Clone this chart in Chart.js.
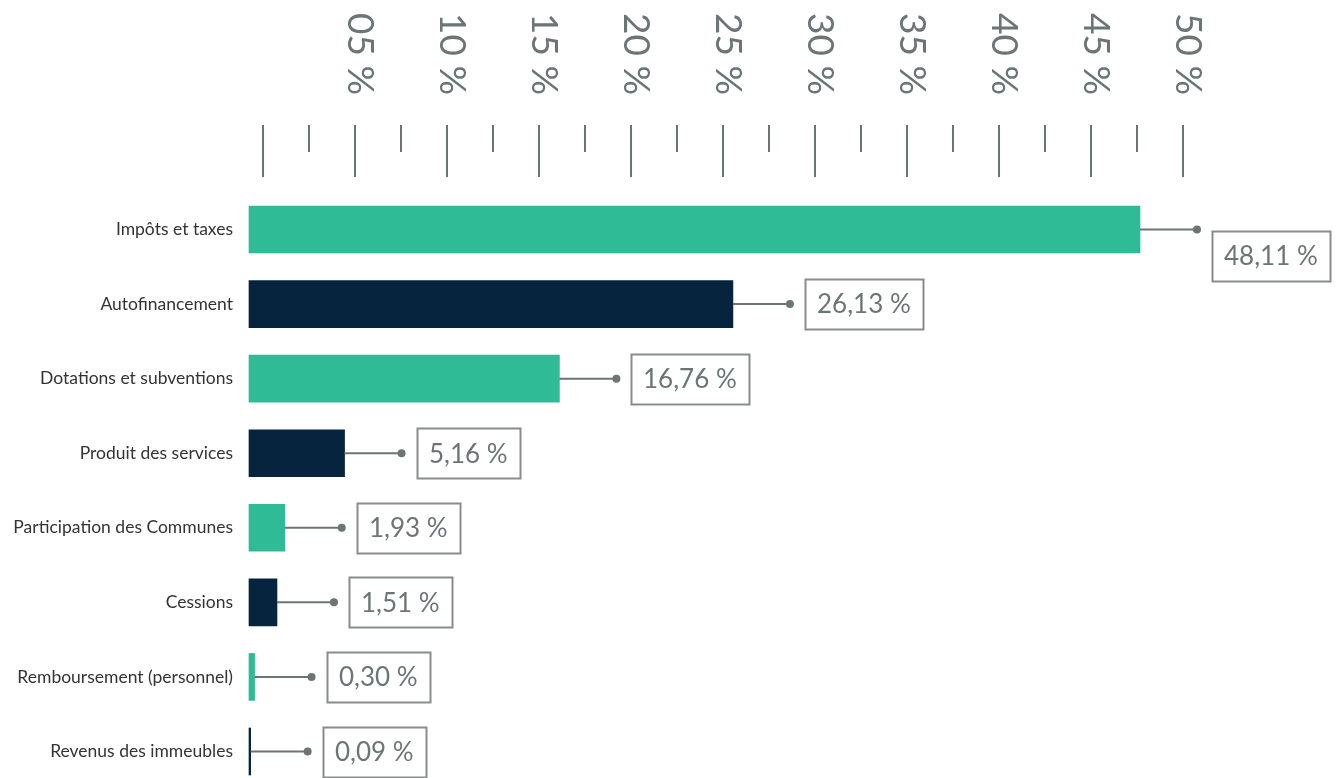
<!DOCTYPE html>
<html>
<head>
<meta charset="utf-8">
<style>
  html, body { margin: 0; padding: 0; background: #ffffff; }
  #wrap { width: 1338px; height: 778px; }
</style>
<script src="https://cdn.jsdelivr.net/npm/chart.js@4.4.1/dist/chart.umd.min.js"></script>
</head>
<body>
<div id="wrap"><canvas id="c" width="1338" height="778"></canvas></div>
<script>
// ---- data ----
const categories = [
  'Impôts et taxes',
  'Autofinancement',
  'Dotations et subventions',
  'Produit des services',
  'Participation des Communes',
  'Cessions',
  'Remboursement (personnel)',
  'Revenus des immeubles'
];
const values = [48.11, 26.13, 16.76, 5.16, 1.93, 1.51, 0.30, 0.09];
const valueLabels = ['48,11 %', '26,13 %', '16,76 %', '5,16 %', '1,93 %', '1,51 %', '0,30 %', '0,09 %'];
const majorTickValues = [0, 5, 10, 15, 20, 25, 30, 35, 40, 45, 50];
const minorTickValues = [2.5, 7.5, 12.5, 17.5, 22.5, 27.5, 32.5, 37.5, 42.5, 47.5];
const tickLabels = ['', '05 %', '10 %', '15 %', '20 %', '25 %', '30 %', '35 %', '40 %', '45 %', '50 %'];

// ---- style ----
const GREEN = '#2ebb95';
const NAVY = '#06243e';
const GREY = '#6b7575';
const BOX = '#8a8c8c';
const FONT = 'Lato, "Open Sans", sans-serif';

const overlayPlugin = {
  id: 'overlay',
  afterDatasetsDraw(chart, args, opts) {
    const ctx = chart.ctx;
    const xs = chart.scales.x;
    ctx.save();
    // tick marks
    ctx.strokeStyle = GREY;
    ctx.lineWidth = 2;
    majorTickValues.forEach(v => {
      const px = Math.round(xs.getPixelForValue(v));
      ctx.beginPath(); ctx.moveTo(px, 125); ctx.lineTo(px, 177); ctx.stroke();
    });
    minorTickValues.forEach(v => {
      const px = Math.round(xs.getPixelForValue(v));
      ctx.beginPath(); ctx.moveTo(px, 125); ctx.lineTo(px, 152); ctx.stroke();
    });
    // rotated tick labels
    ctx.fillStyle = GREY;
    ctx.font = '400 37px ' + FONT;
    ctx.textAlign = 'left';
    ctx.textBaseline = 'alphabetic';
    majorTickValues.forEach((v, i) => {
      const t = tickLabels[i];
      if (!t) return;
      const px = xs.getPixelForValue(v);
      ctx.save();
      ctx.translate(px - 7, 13);
      ctx.rotate(Math.PI / 2);
      ctx.fillText(t, 0, 0);
      ctx.restore();
    });
    // leader lines, dots, boxed labels
    const meta = chart.getDatasetMeta(0);
    const offs = opts.labelOffsetY || [];
    ctx.font = '400 26px ' + FONT;
    meta.data.forEach((bar, i) => {
      const x0 = bar.x, y = bar.y;
      const dotX = x0 + 57;
      ctx.strokeStyle = GREY;
      ctx.lineWidth = 2;
      ctx.beginPath(); ctx.moveTo(x0, y); ctx.lineTo(dotX, y); ctx.stroke();
      ctx.fillStyle = GREY;
      ctx.beginPath(); ctx.arc(dotX, y, 4, 0, Math.PI * 2); ctx.fill();
      const txt = valueLabels[i];
      const w = ctx.measureText(txt).width;
      const bx = dotX + 15;
      const by = y - 25 + (offs[i] || 0);
      const bw = Math.round(w + 24), bh = 50;
      ctx.strokeStyle = BOX;
      ctx.lineWidth = 2;
      ctx.strokeRect(Math.round(bx) + 0.5, Math.round(by) + 0.5, bw, bh);
      ctx.fillStyle = GREY;
      ctx.textAlign = 'left';
      ctx.textBaseline = 'middle';
      ctx.fillText(txt, Math.round(bx) + 12, by + bh / 2 + 1);
    });
    ctx.restore();
  }
};

new Chart(document.getElementById('c'), {
  type: 'bar',
  data: {
    labels: categories,
    datasets: [{
      data: values,
      backgroundColor: values.map((_, i) => i % 2 === 0 ? GREEN : NAVY),
      barThickness: 47,
      xAxisID: 'xb',
      clip: false
    }]
  },
  options: {
    indexAxis: 'y',
    responsive: false,
    animation: false,
    layout: { padding: { top: 229.5, bottom: 23, left: 0, right: 0 } },
    plugins: {
      legend: { display: false },
      tooltip: { enabled: false },
      overlay: { labelOffsetY: [26, 0, 0, 0, 0, 0, 0, 0] }
    },
    scales: {
      xb: { type: 'linear', display: false, min: 0, max: (1338 - 249) / 18.52 },
      x: { type: 'linear', display: false, min: -14 / 18.4, max: (1338 - 263) / 18.4 },
      y: {
        type: 'category',
        offset: false,
        grid: { display: false, drawTicks: false },
        border: { display: false },
        ticks: { padding: 16, color: '#333333', font: { size: 17.5, family: FONT } },
        afterFit(s) { s.width = 249; }
      }
    }
  },
  plugins: [overlayPlugin]
});
</script>
</body>
</html>
